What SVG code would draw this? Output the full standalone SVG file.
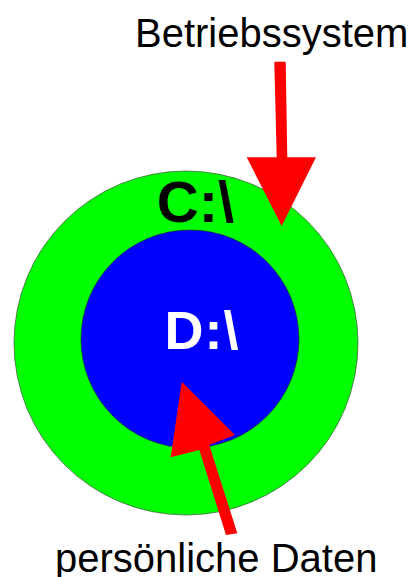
<svg xmlns="http://www.w3.org/2000/svg" width="417" height="577" viewBox="0 0 417 577">
<style>
.lbl{font-family:"Liberation Sans",Arial,sans-serif;font-size:40px;fill:#000}
.drv{font-family:"Liberation Sans",Arial,sans-serif;font-weight:bold;text-anchor:middle}
.arr{fill:#ff0000}
</style>
<rect width="417" height="577" fill="#fff"/>
<g id="laufwerk-c">
<circle cx="186" cy="343" r="172" fill="#00ff00" stroke="#333" stroke-width="0.6"/>
<text class="drv" x="195.5" y="222" font-size="58" fill="#000">C:\</text>
</g>
<g id="laufwerk-d">
<circle cx="190" cy="339" r="109" fill="#0000ff" stroke="#222" stroke-width="0.6"/>
<text class="drv" x="202" y="349" font-size="54" fill="#fff" letter-spacing="1">D:\</text>
</g>
<g id="label-betriebssystem">
<text class="lbl" x="135" y="47">Betriebssystem</text>
</g>
<g id="label-daten">
<text class="lbl" x="55" y="572">persönliche Daten</text>
</g>
<g id="connectors">
<polygon class="arr" points="274.3,61.7 285.7,61.7 287.3,157.3 316,157.3 281.7,226 246.7,157.3 276.7,157.3"/>
<polygon class="arr" points="181.7,381.7 235,435 209.3,445 237.3,533.3 226,535 199.3,450 170.7,457.3"/>
</g>
</svg>
